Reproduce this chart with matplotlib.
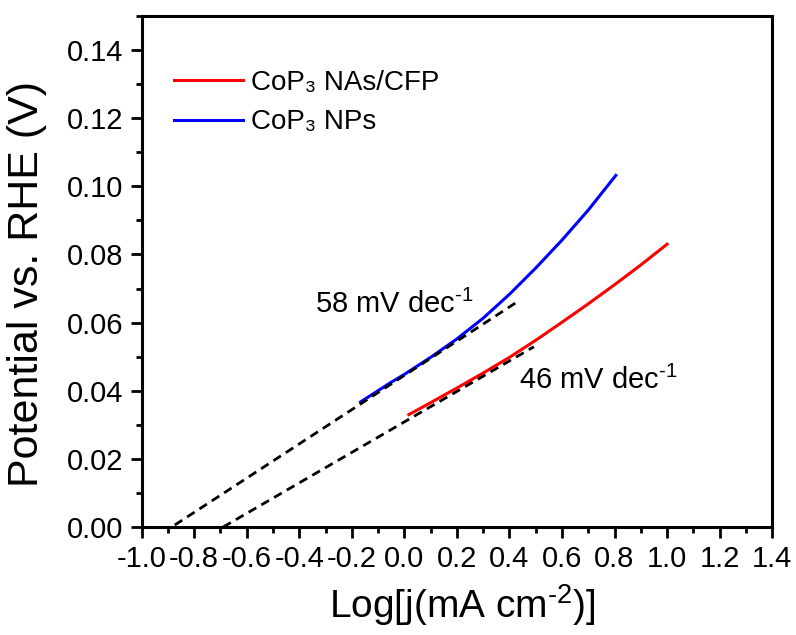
import matplotlib
matplotlib.use("Agg")
import matplotlib.pyplot as plt
from matplotlib.ticker import MultipleLocator, FormatStrFormatter

plt.rcParams['font.family'] = ['Liberation Sans', 'DejaVu Sans']
plt.rcParams['mathtext.fontset'] = 'custom'
plt.rcParams['mathtext.rm'] = 'Liberation Sans'
plt.rcParams['mathtext.it'] = 'Liberation Sans:italic'

# CoP3 NPs (blue)
np_x = [-0.167, -0.05, 0.0, 0.1, 0.2, 0.3, 0.4, 0.5, 0.6, 0.7, 0.805]
np_y = [0.0367, 0.0425, 0.0448, 0.0498, 0.0552, 0.0613, 0.0683, 0.0760, 0.0842, 0.0930, 0.1032]

# CoP3 NAs/CFP (red)
nas_x = [0.017, 0.1, 0.2, 0.3, 0.4, 0.5, 0.6, 0.7, 0.8, 0.9, 1.0]
nas_y = [0.0330, 0.0365, 0.0408, 0.0452, 0.0498, 0.0548, 0.0601, 0.0655, 0.0711, 0.0769, 0.0830]

# tafel fit lines (dashed)
fit_np_x = [-0.874, 0.44]
fit_np_y = [0.0006, 0.0666]
fit_nas_x = [-0.69, 0.493]
fit_nas_y = [0.0, 0.0529]

labels = ['CoP\u2083 NAs/CFP', 'CoP\u2083 NPs']
slope_np = '58 mV dec$^{\u20101}$'
slope_nas = '46 mV dec$^{\u20101}$'

fig = plt.figure(figsize=(7.96, 6.35), dpi=100)
ax = fig.add_axes([0.178, 0.170, 0.792, 0.805])

ax.plot(nas_x, nas_y, color='#ff0000', lw=2.2, label=labels[0], zorder=2)
ax.plot(np_x, np_y, color='#0000ff', lw=2.2, label=labels[1], zorder=2)
ax.plot(fit_np_x, fit_np_y, color='black', lw=2.0, ls=(0, (3.2, 2.1)), zorder=3)
ax.plot(fit_nas_x, fit_nas_y, color='black', lw=2.0, ls=(0, (3.2, 2.1)), zorder=3)

ax.text(-0.341, 0.0628, slope_np, fontsize=21, ha='left', va='baseline')
ax.text(0.436, 0.0405, slope_nas, fontsize=21, ha='left', va='baseline')

ax.set_xlim(-1.0, 1.4)
ax.set_ylim(0.0, 0.15)
ax.xaxis.set_major_locator(MultipleLocator(0.2))
ax.xaxis.set_minor_locator(MultipleLocator(0.1))
ax.yaxis.set_minor_locator(MultipleLocator(0.01))
ax.xaxis.set_major_formatter(FormatStrFormatter('%.1f'))
ax.yaxis.set_major_formatter(FormatStrFormatter('%.2f'))
ax.set_yticks([0.0, 0.02, 0.04, 0.06, 0.08, 0.10, 0.12, 0.14])

ax.tick_params(which='major', direction='out', length=8, width=2, labelsize=21, pad=5)
ax.tick_params(which='minor', direction='out', length=4, width=2)
ax.tick_params(top=False, right=False)
for s in ax.spines.values():
    s.set_linewidth(2.2)

ax.set_xlabel('Log[j(mA cm$^{\u20102}$)]', fontsize=28)
ax.set_ylabel('Potential vs. RHE (V)', fontsize=31)
ax.xaxis.set_label_coords(0.508, -0.108)
ax.yaxis.set_label_coords(-0.150, 0.476)

ax.legend(loc='upper left', bbox_to_anchor=(0.052, 0.895), frameon=False,
          fontsize=20, handlelength=2.46, handletextpad=0.3, labelspacing=0.5,
          borderpad=0, borderaxespad=0)

fig.savefig('out.png', dpi=100)
